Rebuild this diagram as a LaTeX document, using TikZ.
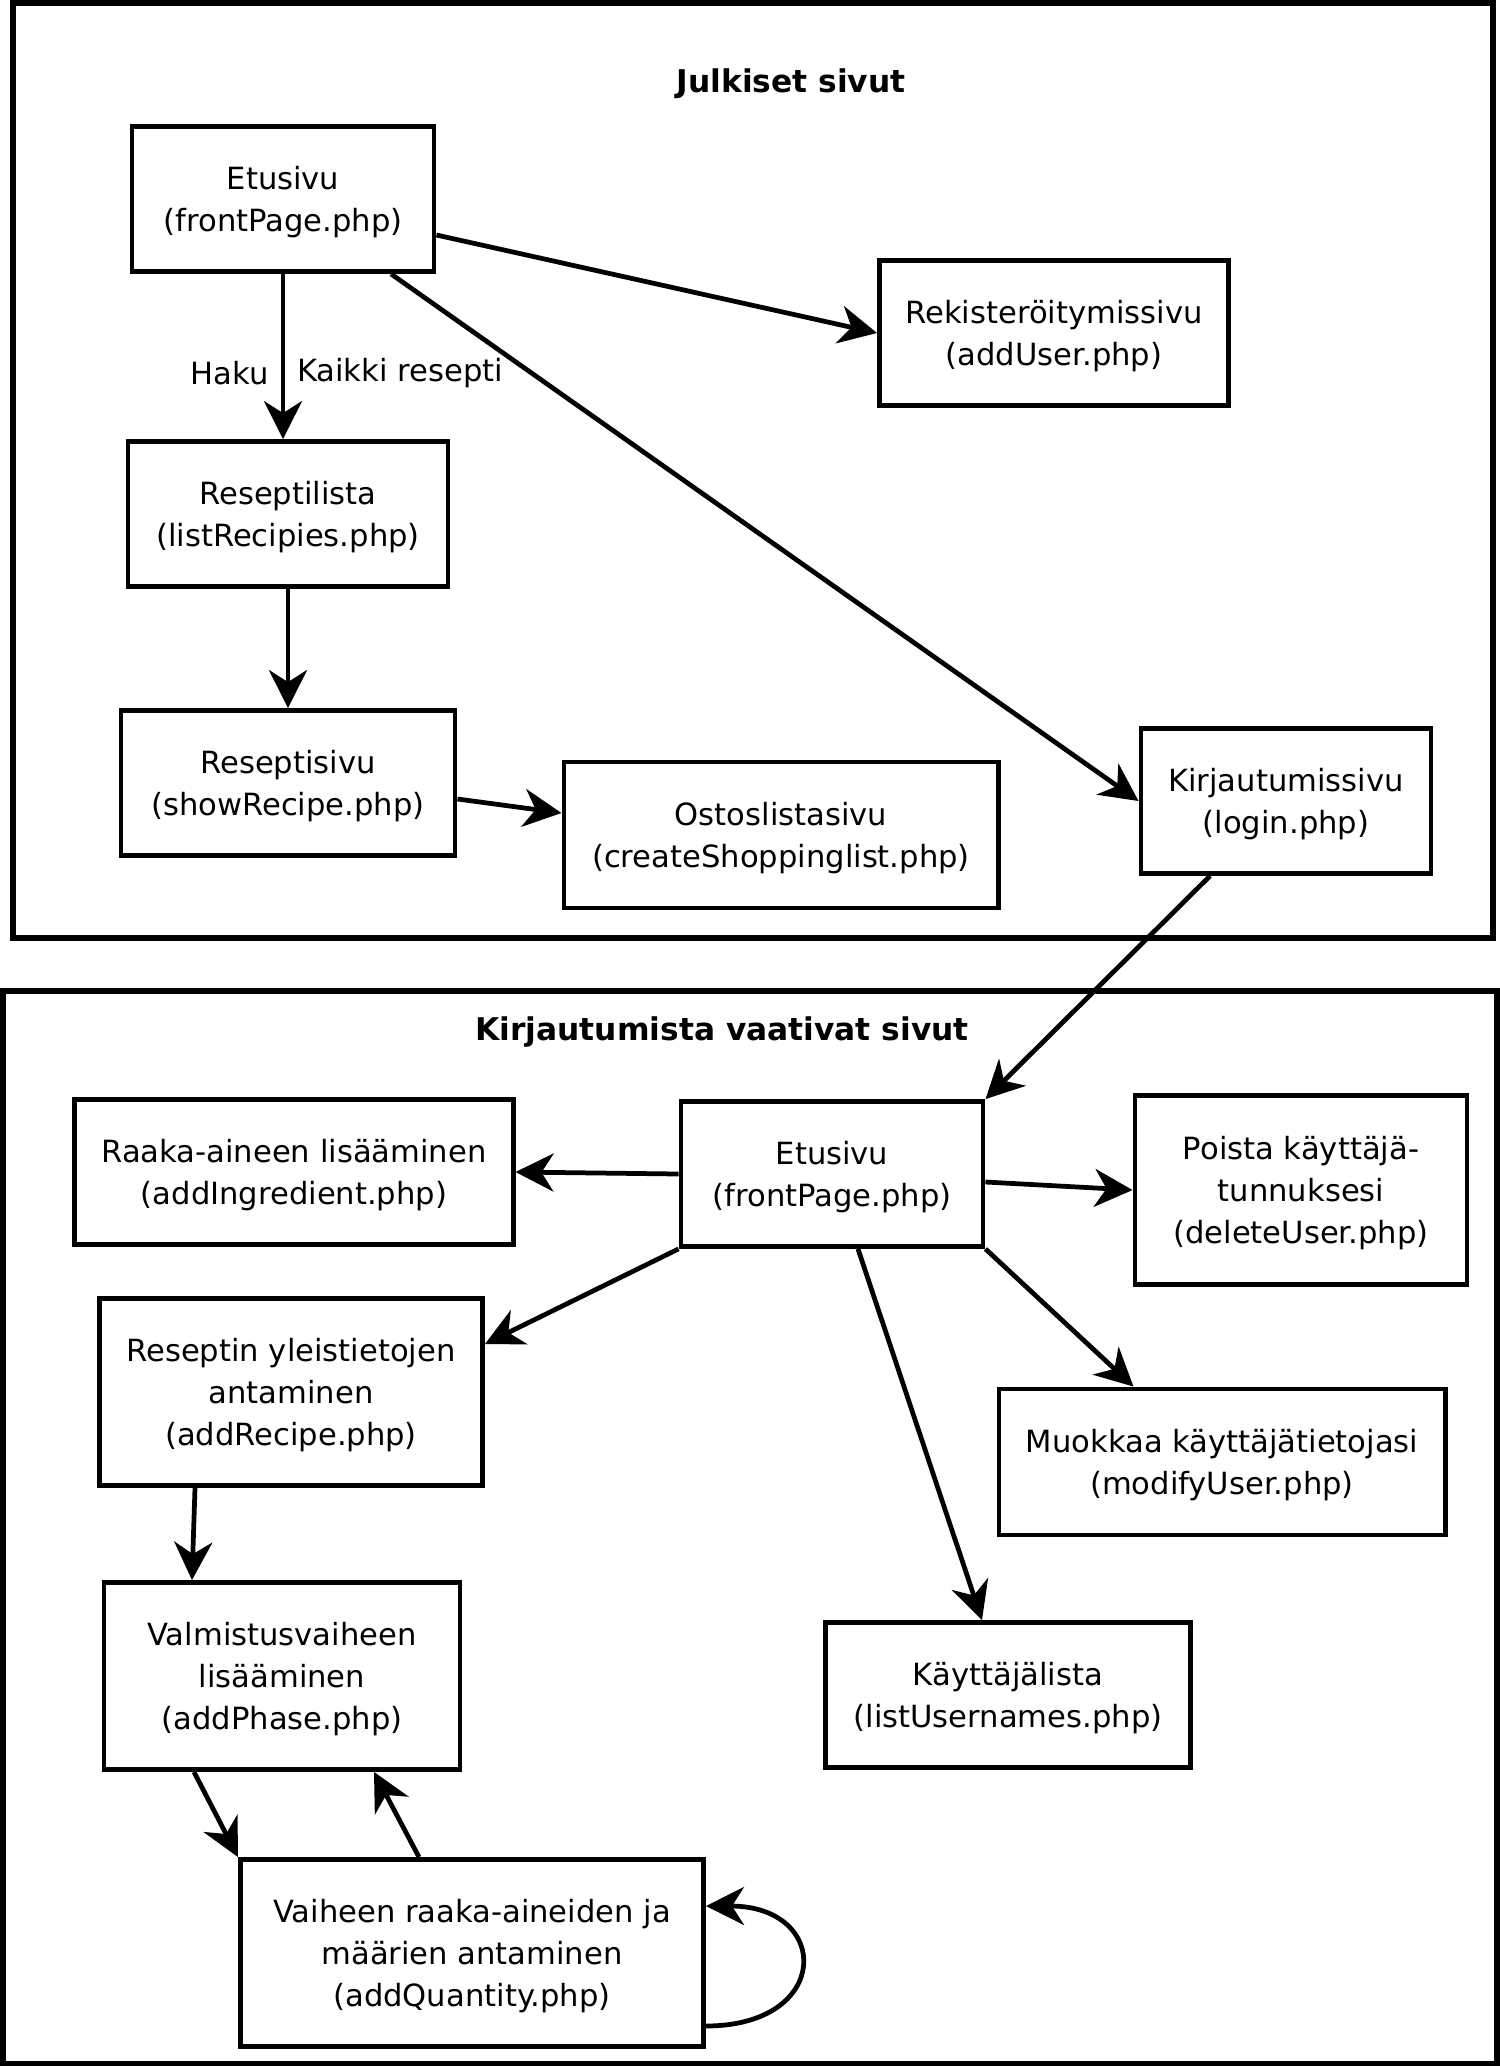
\documentclass[tikz,border=0pt]{standalone}
\usepackage{fontspec}
\setmainfont{DejaVu Sans}
\usetikzlibrary{arrows.meta,calc}

\begin{document}
\begin{tikzpicture}[x=0.01cm,y=-0.01cm,
        pagebox/.style={draw,line width=1.35pt,inner sep=0pt,align=center,font=\fontsize{8.7}{12}\selectfont,
            text depth=-0.5pt},
        areabox/.style={draw,line width=1.6pt},
        areatitle/.style={font=\bfseries\fontsize{8.9}{12}\selectfont},
        linktext/.style={font=\fontsize{8.7}{12}\selectfont},
        link/.style={-{Stealth[length=10.8pt,width=10.8pt,inset=3.4pt]},line width=1.35pt}]
        \useasboundingbox (0,0) rectangle (1500,2066);
        % the two areas
        \draw[areabox] (13,3) rectangle (1493,938);
        \draw[areabox] (3,991) rectangle (1497,2064);
        \node[areatitle] (public) at (791,84) {Julkiset sivut};
        \node[areatitle] (private) at (722,1032) {Kirjautumista vaativat sivut};
        % public pages
        \node[pagebox,minimum width=3.02cm,minimum height=1.45cm] (e1) at (283,199) {Etusivu\\(frontPage.php)};
        \node[pagebox,minimum width=3.49cm,minimum height=1.45cm] (reg) at (1054,333) {Rekisteröitymissivu\\(addUser.php)};
        \node[pagebox,minimum width=3.20cm,minimum height=1.45cm] (rl) at (288,514) {Reseptilista\\(listRecipies.php)};
        \node[pagebox,minimum width=3.34cm,minimum height=1.45cm] (rs) at (288,783) {Reseptisivu\\(showRecipe.php)};
        \node[pagebox,minimum width=4.34cm,minimum height=1.46cm] (shop) at (781,835) {Ostoslistasivu\\(createShoppinglist.php)};
        \node[pagebox,minimum width=2.90cm,minimum height=1.45cm] (login) at (1286,801) {Kirjautumissivu\\(login.php)};
        % pages after login
        \node[pagebox,minimum width=4.38cm,minimum height=1.45cm] (raaka) at (294,1172) {Raaka-aineen lisääminen\\(addIngredient.php)};
        \node[pagebox,minimum width=3.02cm,minimum height=1.45cm] (e2) at (832,1174) {Etusivu\\(frontPage.php)};
        \node[pagebox,minimum width=3.32cm,minimum height=1.89cm] (poista) at (1301,1190) {Poista käyttäjä-\\tunnuksesi\\(deleteUser.php)};
        \node[pagebox,minimum width=3.83cm,minimum height=1.87cm] (resyl) at (291,1392) {Reseptin yleistietojen\\antaminen\\(addRecipe.php)};
        \node[pagebox,minimum width=4.46cm,minimum height=1.46cm] (muok) at (1222,1462) {Muokkaa käyttäjätietojasi\\(modifyUser.php)};
        \node[pagebox,minimum width=3.56cm,minimum height=1.87cm] (valm) at (282,1676) {Valmistusvaiheen\\lisääminen\\(addPhase.php)};
        \node[pagebox,minimum width=3.65cm,minimum height=1.45cm] (klist) at (1008,1695) {Käyttäjälista\\(listUsernames.php)};
        \node[pagebox,minimum width=4.63cm,minimum height=1.87cm] (vaih) at (472,1953) {Vaiheen raaka-aineiden ja\\määrien antaminen\\(addQuantity.php)};
        % links
        \draw[link] (e1.south) -- (e1.south |- rl.north)
            node[pos=.6,left,linktext] {Haku}
            node[pos=.6,right,linktext] {Kaikki resepti};
        \draw[link] ($(e1.east)+(0,36)$) -- (reg.west);
        \draw[link] ($(e1.south)+(108,0)$) -- (login.west);
        \draw[link] (rl.south) -- (rs.north);
        \draw[link] ($(rs.east)+(0,16)$) -- ($(shop.west)+(0,-22)$);
        \draw[link] ($(login.south)+(-76,0)$) -- (e2.north east);
        \draw[link] (e2.west) -- (raaka.east);
        \draw[link] (e2.south west) -- ($(resyl.east)+(0,-48)$);
        \draw[link] ($(e2.east)+(0,8)$) -- (poista.west);
        \draw[link] (e2.south east) -- ($(muok.north west)+(137,0)$);
        \draw[link] ($(e2.south)+(26,0)$) -- ($(klist.north)+(-26,0)$);
        \draw[link] ($(resyl.south)+(-96,0)$) -- ($(valm.north)+(-90,0)$);
        \draw[link] ($(valm.south)+(-88,0)$) -- (vaih.north west);
        \draw[link] ($(vaih.north)+(-53,0)$) -- ($(valm.south)+(92,0)$);
        \draw[link] ($(vaih.east)+(0,73)$) .. controls +(126,0) and +(126,0) .. ($(vaih.east)+(0,-47)$);
\end{tikzpicture}
\end{document}
